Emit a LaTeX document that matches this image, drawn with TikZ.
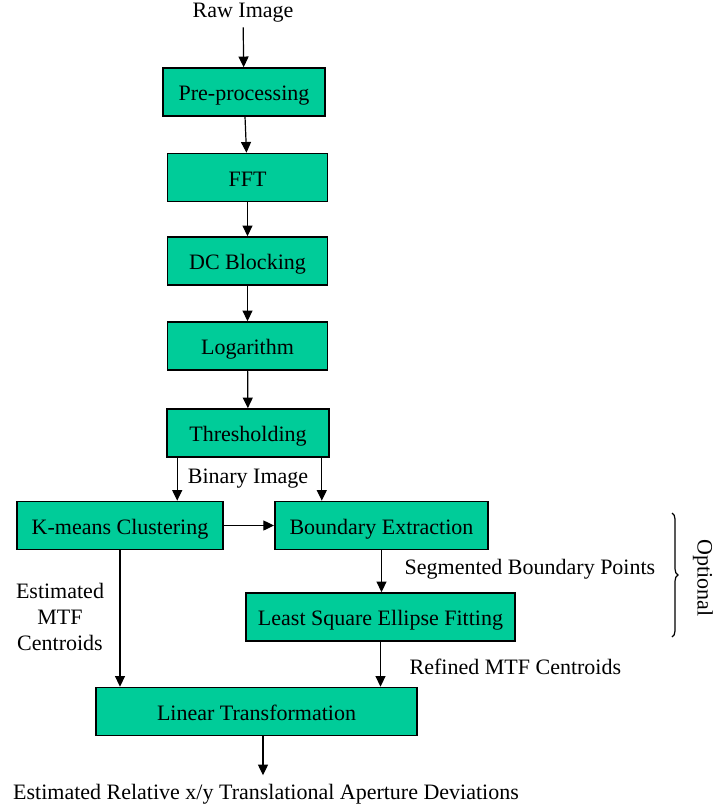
\documentclass[tikz,border=0pt]{standalone}
\usepackage{fontspec}
\setmainfont{Liberation Serif}
\usetikzlibrary{arrows.meta, calc, decorations.pathreplacing}
\definecolor{boxgreen}{RGB}{0,204,153}
\tikzset{box/.style = {draw, line width=1.2pt, fill=boxgreen, inner sep=0pt, minimum height=36pt, text height=16pt, text depth=3pt}}
\tikzset{arr/.style = {line width=0.9pt, -{Triangle[length=8pt, width=7.5pt]}}}
\tikzset{every node/.append style = {font=\fontsize{16.5}{19.5}\selectfont}}

\begin{document}
\begin{tikzpicture}[x=0.75pt, y=-0.75pt]
\useasboundingbox (0,0) rectangle (717,807);
\node (raw) at (243,13) {Raw Image};
\node [box, minimum width=121.5pt] (pre) at (244,92) {Pre-processing};
\node [box, minimum width=120pt] (fft) at (247.5,177.5) {FFT};
\node [box, minimum width=120pt] (dc) at (247.5,261) {DC Blocking};
\node [box, minimum width=120pt] (log) at (247.5,346) {Logarithm};
\node [box, minimum width=121.5pt] (thr) at (248,433) {Thresholding};
\node [box, minimum width=154.5pt] (km) at (120,525.5) {K-means Clustering};
\node [box, minimum width=160pt] (be) at (381.5,525.5) {Boundary Extraction};
\node [box, minimum width=201.75pt] (lsef) at (380.5,617) {Least Square Ellipse Fitting};
\node [box, minimum width=240.75pt] (lt) at (256.5,711.5) {Linear Transformation};
\node (out) at (266,794) {Estimated Relative x/y Translational Aperture Deviations};
\node (bin) at (248,479) {Binary Image};
\node [anchor=west] (seg) at (400,569) {Segmented Boundary Points};
\node [anchor=west] (ref) at (405,667) {Refined MTF Centroids};
\node [align=center] (est) at (60,617) {Estimated\\MTF\\Centroids};
\node [rotate=-90] (opt) at (703,578) {Optional};
\draw [arr] (raw) -- (pre);
\draw [arr] (pre) -- (fft);
\draw [arr] (fft) -- (dc);
\draw [arr] (dc) -- (log);
\draw [arr] (log) -- (thr);
\draw [arr] (thr.south west) ++(11,0) coordinate (t1) -- (t1 |- km.north);
\draw [arr] (thr.south east) ++(-8,0) coordinate (t2) -- (t2 |- be.north);
\draw [arr] (km) -- (be);
\draw [arr] (be) -- (be |- lsef.north);
\draw [arr] (km) -- (km |- lt.north);
\draw [arr] (lsef) -- (lsef |- lt.north);
\draw [arr] (lt.south) ++(6.5,0) coordinate (o1) -- ($(o1 |- out.north)+(0,-4)$);
\draw [line width=0.9pt, decorate, decoration={brace, amplitude=4.5pt}] (672,513) -- (672,637);
\end{tikzpicture}
\end{document}
